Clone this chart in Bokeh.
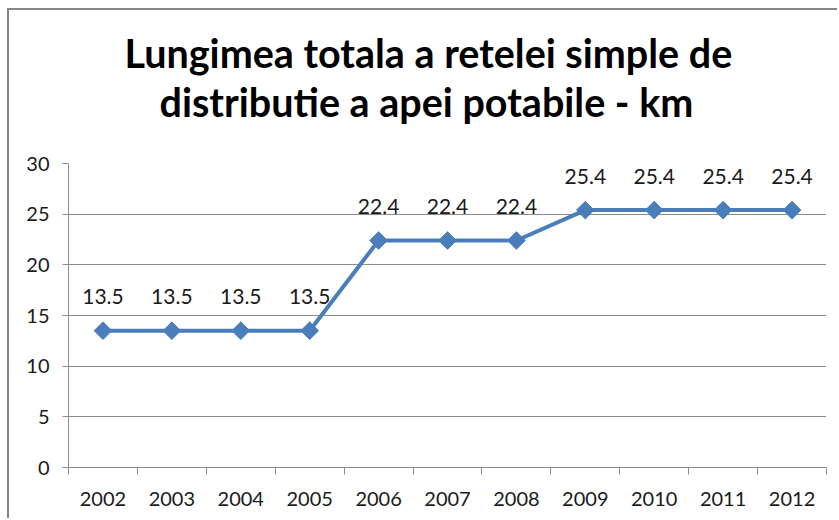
import numpy as np
from bokeh.plotting import figure
from bokeh.models import FixedTicker, Range1d, ColumnDataSource, Title
from bokeh.core.properties import value
from bokeh.embed import file_html
from bokeh.resources import INLINE

title_lines = ["Lungimea totala a retelei simple de", "distributie a apei potabile - km"]
years = ["2002", "2003", "2004", "2005", "2006", "2007", "2008", "2009", "2010", "2011", "2012"]
values = [13.5, 13.5, 13.5, 13.5, 22.4, 22.4, 22.4, 25.4, 25.4, 25.4, 25.4]
y_ticks = [0, 5, 10, 15, 20, 25, 30]

FONT = "Lato"
LINE = "#4a7ebb"
GRID = "#8c8c8c"

W, H = 830, 510
BL, BR, BT, BB = 59, 13, 153, 53

xpos = [i + 0.5 for i in range(len(years))]
src = ColumnDataSource(dict(x=xpos, y=values, lab=[f"{v:.1f}" for v in values]))

p = figure(width=W, height=H, output_backend="svg", toolbar_location=None,
           x_range=Range1d(0, len(years)), y_range=Range1d(0, 30),
           min_border_left=BL, min_border_right=BR, min_border_top=BT, min_border_bottom=BB)
p.styles = {"margin-left": "7px", "margin-top": "8px",
            "border-left": "2px solid #868686", "border-top": "2px solid #868686"}

p.outline_line_color = None
p.background_fill_color = "white"
p.border_fill_color = "white"

# spacer between plot area and title
p.add_layout(Title(text=" ", text_font_size="1px", standoff=36), "above")
# title: two lines, each left-aligned with an offset so they sit centred like the original
for line, off in [(title_lines[1], 91), (title_lines[0], 56)]:
    p.add_layout(Title(text=line, align="left", offset=off, standoff=0,
                       text_font=FONT, text_font_style="bold", text_font_size="39.5px",
                       text_color="#000000"), "above")

# grid
p.xgrid.grid_line_color = None
p.ygrid.ticker = FixedTicker(ticks=y_ticks)
p.ygrid.grid_line_color = GRID
p.ygrid.grid_line_width = 1

# y axis
p.yaxis.ticker = FixedTicker(ticks=y_ticks)
p.yaxis.axis_line_color = GRID
p.yaxis.major_tick_line_color = GRID
p.yaxis.major_tick_out = 6
p.yaxis.major_tick_in = 0
p.yaxis.minor_tick_line_color = None
p.yaxis.major_label_text_font = FONT
p.yaxis.major_label_text_font_size = "20px"
p.yaxis.major_label_text_color = "#1a1a1a"
p.yaxis.major_label_standoff = 13

# x axis
p.xaxis.ticker = FixedTicker(ticks=xpos, minor_ticks=list(range(len(years) + 1)))
p.xaxis.major_label_overrides = {x: y for x, y in zip(xpos, years)}
p.xaxis.axis_line_color = GRID
p.xaxis.major_tick_line_color = None
p.xaxis.major_tick_out = 0
p.xaxis.major_tick_in = 0
p.xaxis.minor_tick_line_color = GRID
p.xaxis.minor_tick_out = 7
p.xaxis.minor_tick_in = 0
p.xaxis.major_label_text_font = FONT
p.xaxis.major_label_text_font_size = "20px"
p.xaxis.major_label_text_color = "#1a1a1a"
p.xaxis.major_label_standoff = 17

p.line("x", "y", source=src, line_color=LINE, line_width=4)
p.scatter("x", "y", source=src, marker="square", angle=np.pi / 4, size=12.5,
          fill_color=LINE, line_color=LINE)
p.text("x", "y", text="lab", source=src, text_font=value(FONT), text_font_size="21px",
       text_color="#1a1a1a", text_align="center", text_baseline="alphabetic", y_offset=-34)

open("out.html", "w").write(file_html(p, INLINE))
